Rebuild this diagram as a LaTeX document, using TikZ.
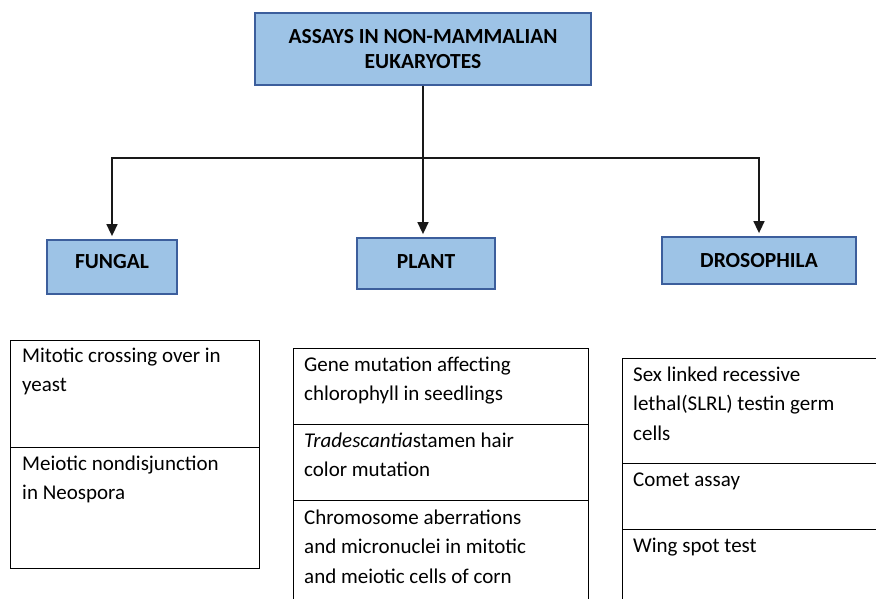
\documentclass[tikz,border=0pt]{standalone}
\usepackage{fontspec}
\setmainfont{Carlito}
\usetikzlibrary{arrows.meta,positioning}

\definecolor{boxfill}{HTML}{9DC3E6}
\definecolor{boxline}{HTML}{3C5E9C}

\tikzset{
  head/.style={draw=boxline, fill=boxfill, line width=1.8pt, align=center, inner sep=0pt,
    font=\fontsize{21.5}{25}\selectfont\bfseries},
  link/.style={line width=1.6pt, draw=black!90},
  down/.style={link, -{Triangle[width=11pt,length=12pt]}, shorten >=3pt},
  cell/.style={line width=1pt},
  % base sits on the last line
  item/.style={anchor=base west, align=left, inner sep=0pt,
    font=\fontsize{21}{29.5}\selectfont}
}

\begin{document}
\begin{tikzpicture}[x=1pt,y=-1pt]
\useasboundingbox (0,0) rectangle (876,599);

% boxes of the tree
\node[head, minimum width=336pt, minimum height=72pt] (root) at (423,49) {ASSAYS IN NON-MAMMALIAN\\EUKARYOTES};
\node[head, minimum width=130pt, minimum height=54pt, text height=14pt, text depth=11pt] (fungal) at (112,267) {FUNGAL};
\node[head, minimum width=138pt, minimum height=51pt, text height=14pt, text depth=4pt] (plant) at (426,263.5) {PLANT};
\node[head, minimum width=194pt, minimum height=47pt] (drosophila) at (759,260.5) {DROSOPHILA};

% connectors
\coordinate (split) at (423,158);
\draw[link] (root) -- (split);
\draw[down] (split) -| (fungal);
\draw[down] (split) -- (split |- plant.north);
\draw[down] (split) -| (drosophila);

% fungal list
\draw[cell] (10,340) rectangle (259,447);
\draw[cell] (10,447) rectangle (259,568);
\node[item] (fung1) at (22,391.5) {Mitotic crossing over in\\yeast};
\node[item] (fung2) at (22,499.5) {Meiotic nondisjunction\\in Neospora};

% plant list
\draw[cell] (293,348) rectangle (588,424);
\draw[cell] (293,424) rectangle (588,500);
\draw[cell] (293,500) rectangle (588,612);
\node[item] (plant1) at (304,400.5) {Gene mutation affecting\\chlorophyll in seedlings};
\node[item] (plant2) at (304,476.5) {\textit{Tradescantia}stamen hair\\color mutation};
\node[item] (plant3) at (304,583) {Chromosome aberrations\\and micronuclei in mitotic\\and meiotic cells of corn};

% drosophila list
\draw[cell] (622,358) rectangle (890,463);
\draw[cell] (622,463) rectangle (890,529);
\draw[cell] (622,529) rectangle (890,612);
\node[item] (dros1) at (633,440) {Sex linked recessive\\lethal(SLRL) testin germ\\cells};
\node[item] (dros2) at (633,486) {Comet assay};
\node[item] (dros3) at (633,552) {Wing spot test};
\end{tikzpicture}
\end{document}
